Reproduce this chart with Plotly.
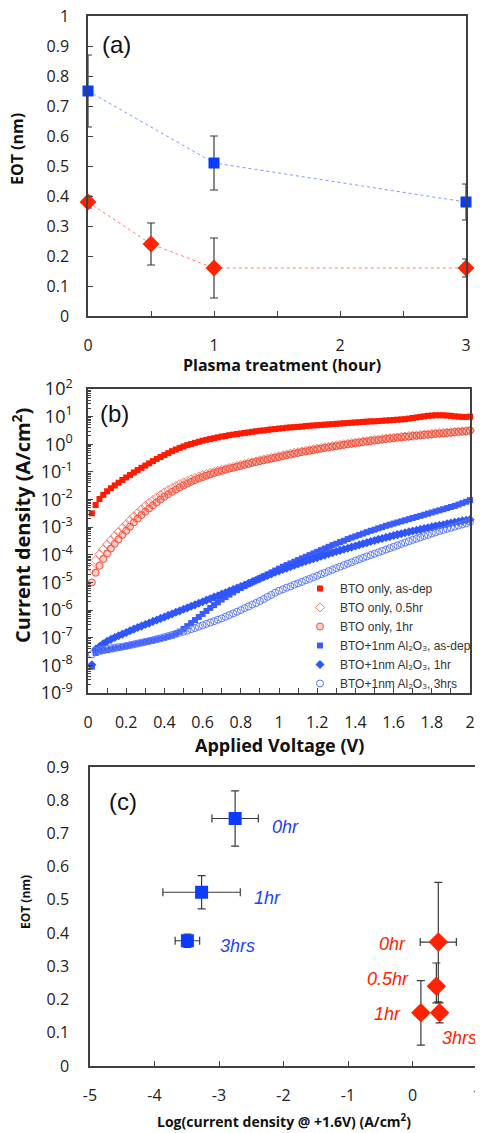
import plotly.graph_objects as go

# ---------------- Panel (a) data ----------------
plasma_hours_sq = [0, 1, 3]
eot_al2o3 = [0.75, 0.51, 0.38]
eot_al2o3_err = [0.12, 0.09, 0.06]

plasma_hours_dm = [0, 0.5, 1, 3]
eot_bto = [0.38, 0.24, 0.16, 0.16]
eot_bto_err = [0.02, 0.07, 0.10, 0.03]

# ---------------- Panel (b) data (J-V sweeps) ----------------
voltage = [round(0.02 * k, 2) for k in range(1, 101)]  # measurement sweep grid 0.02 .. 2.00 V

log_j_bto_asdep = [
    -2.50, -2.20, -1.98, -1.83, -1.70, -1.59, -1.49, -1.39, -1.29, -1.20,
    -1.11, -1.02, -0.93, -0.85, -0.77, -0.69, -0.61, -0.53, -0.46, -0.39,
    -0.32, -0.25, -0.19, -0.13, -0.08, -0.03, 0.01, 0.05, 0.09, 0.13,
    0.16, 0.19, 0.22, 0.25, 0.28, 0.30, 0.33, 0.35, 0.37, 0.39,
    0.41, 0.43, 0.45, 0.47, 0.49, 0.50, 0.52, 0.54, 0.55, 0.57,
    0.58, 0.60, 0.61, 0.62, 0.63, 0.64, 0.66, 0.67, 0.68, 0.69,
    0.70, 0.71, 0.72, 0.73, 0.74, 0.75, 0.76, 0.77, 0.78, 0.79,
    0.80, 0.81, 0.82, 0.83, 0.83, 0.84, 0.85, 0.86, 0.87, 0.88,
    0.89, 0.90, 0.91, 0.93, 0.95, 0.97, 0.99, 1.01, 1.03, 1.04,
    1.05, 1.05, 1.05, 1.04, 1.03, 1.01, 1.00, 0.99, 0.99, 1.00]

log_j_bto_05hr = [
    -4.50, -4.20, -3.98, -3.80, -3.63, -3.47, -3.32, -3.17, -3.03, -2.89,
    -2.75, -2.61, -2.48, -2.35, -2.23, -2.12, -2.02, -1.92, -1.83, -1.74,
    -1.66, -1.58, -1.51, -1.44, -1.38, -1.32, -1.27, -1.22, -1.17, -1.12,
    -1.08, -1.04, -1.00, -0.96, -0.92, -0.89, -0.85, -0.82, -0.78, -0.75,
    -0.72, -0.68, -0.65, -0.62, -0.58, -0.55, -0.52, -0.49, -0.46, -0.43,
    -0.40, -0.37, -0.34, -0.31, -0.29, -0.26, -0.23, -0.21, -0.18, -0.16,
    -0.13, -0.11, -0.09, -0.06, -0.04, -0.02, 0.00, 0.02, 0.04, 0.06,
    0.08, 0.10, 0.12, 0.14, 0.16, 0.17, 0.19, 0.21, 0.22, 0.24,
    0.25, 0.27, 0.28, 0.30, 0.31, 0.32, 0.34, 0.35, 0.36, 0.38,
    0.39, 0.40, 0.41, 0.42, 0.44, 0.45, 0.46, 0.47, 0.48, 0.49]

log_j_bto_1hr = [
    -5.00, -4.65, -4.40, -4.15, -3.95, -3.77, -3.60, -3.44, -3.28, -3.13,
    -2.98, -2.83, -2.69, -2.56, -2.44, -2.32, -2.21, -2.10, -2.00, -1.90,
    -1.81, -1.72, -1.64, -1.56, -1.49, -1.42, -1.36, -1.30, -1.24, -1.19,
    -1.14, -1.09, -1.04, -1.00, -0.96, -0.92, -0.88, -0.85, -0.81, -0.78,
    -0.74, -0.71, -0.67, -0.64, -0.61, -0.58, -0.55, -0.52, -0.49, -0.46,
    -0.43, -0.40, -0.37, -0.34, -0.31, -0.28, -0.26, -0.23, -0.21, -0.18,
    -0.16, -0.13, -0.11, -0.09, -0.07, -0.04, -0.02, 0.00, 0.02, 0.04,
    0.06, 0.08, 0.10, 0.12, 0.14, 0.15, 0.17, 0.19, 0.21, 0.22,
    0.24, 0.25, 0.27, 0.28, 0.30, 0.31, 0.32, 0.34, 0.35, 0.36,
    0.38, 0.39, 0.40, 0.41, 0.42, 0.44, 0.45, 0.46, 0.47, 0.50]

log_j_al_asdep = [
    -8.05, -7.55, -7.50, -7.47, -7.45, -7.42, -7.39, -7.36, -7.33, -7.30,
    -7.27, -7.24, -7.21, -7.18, -7.15, -7.12, -7.09, -7.06, -7.03, -7.00,
    -6.96, -6.92, -6.86, -6.78, -6.68, -6.58, -6.47, -6.36, -6.25, -6.14,
    -6.03, -5.92, -5.82, -5.72, -5.62, -5.53, -5.44, -5.36, -5.28, -5.20,
    -5.13, -5.06, -4.99, -4.92, -4.85, -4.78, -4.71, -4.64, -4.57, -4.50,
    -4.43, -4.37, -4.31, -4.25, -4.19, -4.13, -4.07, -4.01, -3.95, -3.89,
    -3.83, -3.77, -3.71, -3.65, -3.60, -3.54, -3.49, -3.43, -3.38, -3.33,
    -3.28, -3.23, -3.18, -3.13, -3.09, -3.04, -3.00, -2.95, -2.91, -2.87,
    -2.83, -2.79, -2.75, -2.71, -2.67, -2.63, -2.59, -2.55, -2.51, -2.47,
    -2.43, -2.39, -2.35, -2.31, -2.27, -2.23, -2.18, -2.13, -2.08, -2.02]

log_j_al_1hr = [
    -7.98, -7.42, -7.32, -7.22, -7.13, -7.06, -6.99, -6.93, -6.87, -6.81,
    -6.75, -6.69, -6.63, -6.58, -6.52, -6.47, -6.41, -6.36, -6.30, -6.25,
    -6.19, -6.14, -6.08, -6.03, -5.97, -5.92, -5.86, -5.81, -5.75, -5.70,
    -5.64, -5.59, -5.53, -5.48, -5.42, -5.37, -5.31, -5.26, -5.20, -5.15,
    -5.09, -5.03, -4.98, -4.92, -4.86, -4.80, -4.75, -4.69, -4.63, -4.58,
    -4.53, -4.48, -4.43, -4.38, -4.33, -4.28, -4.23, -4.19, -4.14, -4.10,
    -4.05, -4.01, -3.96, -3.92, -3.88, -3.84, -3.80, -3.76, -3.72, -3.68,
    -3.64, -3.60, -3.56, -3.52, -3.48, -3.44, -3.41, -3.37, -3.34, -3.30,
    -3.27, -3.24, -3.20, -3.17, -3.14, -3.11, -3.08, -3.05, -3.02, -2.99,
    -2.96, -2.93, -2.91, -2.88, -2.85, -2.82, -2.80, -2.77, -2.75, -2.72]

log_j_al_3hrs = [
    -7.60, -7.48, -7.45, -7.42, -7.40, -7.38, -7.36, -7.34, -7.32, -7.30,
    -7.27, -7.24, -7.21, -7.18, -7.15, -7.12, -7.09, -7.05, -7.02, -6.98,
    -6.94, -6.90, -6.86, -6.82, -6.78, -6.74, -6.69, -6.65, -6.60, -6.55,
    -6.50, -6.45, -6.40, -6.35, -6.30, -6.24, -6.18, -6.12, -6.06, -6.00,
    -5.93, -5.87, -5.80, -5.74, -5.67, -5.60, -5.52, -5.45, -5.37, -5.30,
    -5.25, -5.19, -5.14, -5.08, -5.03, -4.98, -4.92, -4.87, -4.81, -4.76,
    -4.70, -4.65, -4.59, -4.54, -4.48, -4.43, -4.37, -4.32, -4.27, -4.21,
    -4.16, -4.11, -4.06, -4.01, -3.96, -3.91, -3.86, -3.81, -3.76, -3.71,
    -3.66, -3.61, -3.56, -3.51, -3.46, -3.42, -3.37, -3.32, -3.28, -3.23,
    -3.19, -3.14, -3.10, -3.06, -3.02, -2.98, -2.94, -2.90, -2.86, -2.80]

legend_names = [
    "BTO only, as-dep",
    "BTO only, 0.5hr",
    "BTO only, 1hr",
    "BTO+1nm Al₂O₃, as-dep",
    "BTO+1nm Al₂O₃, 1hr",
    "BTO+1nm Al₂O₃, 3hrs",
]

y_tick_exponents = [-9, -8, -7, -6, -5, -4, -3, -2, -1, 0, 1, 2]
x_ticks_c = [-5, -4, -3, -2, -1, 0, 1]

# ---------------- Panel (c) data ----------------
logj_al = [-2.75, -3.27, -3.49]
logj_al_err = [0.36, 0.60, 0.19]
eot_c_al = [0.745, 0.523, 0.377]
eot_c_al_err = [0.083, 0.05, 0.02]
labels_al = ["0hr", "1hr", "3hrs"]

logj_bto = [0.40, 0.37, 0.13, 0.42]
logj_bto_err = [0.28, 0.03, 0.05, 0.05]
eot_c_bto = [0.373, 0.24, 0.16, 0.16]
eot_c_bto_err_plus = [0.18, 0.07, 0.097, 0.03]
eot_c_bto_err_minus = [0.18, 0.05, 0.097, 0.03]
labels_bto = ["0hr", "0.5hr", "1hr", "3hrs"]

# ---------------- page geometry (page body has an 8px margin) ----------------
OFF = 8
W = 483 - OFF
H = 1133 - OFF


def fx(px):
    return (px - OFF) / W


def fy(py):
    return 1 - (py - OFF) / H


# ---------------- styling ----------------
BLUE = "#0A3CFF"
RED = "#FF2200"
AX = "#404040"
ERR = "#3A3A3A"
TICKFONT = "Open Sans"
LBLFONT = "Liberation Sans"

fig = go.Figure()

# Panel (a)
fig.add_trace(go.Scatter(
    x=plasma_hours_sq, y=eot_al2o3, mode="lines+markers",
    line=dict(color="#7D97FF", width=1, dash="dot"),
    marker=dict(symbol="square", size=11, color=BLUE),
    error_y=dict(type="data", array=eot_al2o3_err, color=ERR, thickness=1.2, width=4),
    xaxis="x", yaxis="y", showlegend=False, cliponaxis=False))
fig.add_trace(go.Scatter(
    x=plasma_hours_dm, y=eot_bto, mode="lines+markers",
    line=dict(color="#FF8070", width=1, dash="dot"),
    marker=dict(symbol="diamond", size=13, color=RED),
    error_y=dict(type="data", array=eot_bto_err, color=ERR, thickness=1.2, width=4),
    xaxis="x", yaxis="y", showlegend=False, cliponaxis=False))

# Panel (b)
series_b = [log_j_bto_asdep, log_j_bto_05hr, log_j_bto_1hr,
            log_j_al_asdep, log_j_al_1hr, log_j_al_3hrs]
marker_styles = [
    dict(symbol="square", size=6, color="#FF1A00"),
    dict(symbol="diamond-open", size=7, color="#FF7A6A", line=dict(width=1)),
    dict(symbol="circle", size=7, color="rgba(255,120,100,0.35)", line=dict(color="#F0503C", width=1)),
    dict(symbol="square", size=6, color="#3A5CFF"),
    dict(symbol="diamond", size=7, color="#2F55FF"),
    dict(symbol="circle-open", size=7, color="#5A78FF", line=dict(width=1)),
]
for name, logs, mk in zip(legend_names, series_b, marker_styles):
    fig.add_trace(go.Scatter(
        x=voltage, y=[10 ** v for v in logs], mode="markers", name=name,
        marker=mk, xaxis="x2", yaxis="y2", cliponaxis=False))

# Panel (c)
fig.add_trace(go.Scatter(
    x=logj_al, y=eot_c_al, mode="markers",
    marker=dict(symbol="square", size=13, color=BLUE),
    error_x=dict(type="data", array=logj_al_err, color=ERR, thickness=1.2, width=4),
    error_y=dict(type="data", array=eot_c_al_err, color=ERR, thickness=1.2, width=4),
    xaxis="x3", yaxis="y3", showlegend=False, cliponaxis=False))
fig.add_trace(go.Scatter(
    x=logj_bto, y=eot_c_bto, mode="markers",
    marker=dict(symbol="diamond", size=15, color=RED),
    error_x=dict(type="data", array=logj_bto_err, color=ERR, thickness=1.2, width=4),
    error_y=dict(type="data", array=eot_c_bto_err_plus, arrayminus=eot_c_bto_err_minus,
                 color=ERR, thickness=1.2, width=4),
    xaxis="x3", yaxis="y3", showlegend=False, cliponaxis=False))

ann = []
al_shift = [(35, -9), (50, -6), (31, -5)]
for xv, yv, t, (dx, dy) in zip(logj_al, eot_c_al, labels_al, al_shift):
    ann.append(dict(x=xv, y=yv, xref="x3", yref="y3", text="<i>%s</i>" % t, showarrow=False,
                    xanchor="left", yanchor="middle", xshift=dx, yshift=dy,
                    font=dict(family=LBLFONT, size=18, color="#1F40FF")))
bto_shift = [(-30, -2, "right"), (-25, 7, "right"), (-18, -1, "right"), (0, -25, "left")]
for xv, yv, t, (dx, dy, anc) in zip(logj_bto, eot_c_bto, labels_bto, bto_shift):
    ann.append(dict(x=xv, y=yv, xref="x3", yref="y3", text="<i>%s</i>" % t, showarrow=False,
                    xanchor=anc, yanchor="middle", xshift=dx, yshift=dy,
                    font=dict(family=LBLFONT, size=18, color=RED)))

# panel labels
for txt, px, py in [("(a)", 100, 45), ("(b)", 98, 413), ("(c)", 107, 802)]:
    ann.append(dict(x=fx(px), y=fy(py), xref="paper", yref="paper", text=txt,
                    showarrow=False, xanchor="left", yanchor="middle",
                    font=dict(family=LBLFONT, size=24, color="#111")))

# axis titles
TB = dict(family=TICKFONT, color="#111")
CC = dict(xref="paper", yref="paper", showarrow=False, xanchor="center", yanchor="middle")
ann += [
    dict(x=fx(17), y=fy(149), text="<b>EOT (nm)</b>", textangle=-90,
         font=dict(size=16, **TB), **CC),
    dict(x=fx(282), y=fy(365), text="<b>Plasma treatment (hour)</b>",
         font=dict(size=16, **TB), **CC),
    dict(x=fx(21), y=fy(526), text="<b>Current density (A/cm<sup>2</sup>)</b>", textangle=-90,
         font=dict(size=20, **TB), **CC),
    dict(x=fx(279), y=fy(745), text="<b>Applied Voltage (V)</b>",
         font=dict(size=18, **TB), **CC),
    dict(x=fx(25), y=fy(902), text="<b>EOT (nm)</b>", textangle=-90,
         font=dict(size=12, **TB), **CC),
    dict(x=fx(284), y=fy(1121), text="<b>Log(current density @ +1.6V) (A/cm<sup>2</sup>)</b>",
         font=dict(size=14, **TB), **CC),
]

axis_common = dict(showgrid=False, zeroline=False, showline=True, linecolor=AX, linewidth=1.5,
                   mirror=True, tickcolor=AX, ticks="inside", ticklen=5, automargin=False,
                   ticklabeloverflow="allow",
                   tickfont=dict(family=TICKFONT, size=16, color="#222"))

fig.update_layout(
    width=W, height=H, margin=dict(l=0, r=0, t=0, b=0, pad=0, autoexpand=False),
    paper_bgcolor="white", plot_bgcolor="white",
    xaxis=dict(domain=[fx(88), fx(466)], anchor="y", range=[0, 3], dtick=1,
               ticklabelstandoff=14, minor=dict(ticks="inside", dtick=0.5, ticklen=5, tickcolor=AX),
               **axis_common),
    yaxis=dict(domain=[fy(316), fy(16)], anchor="x", range=[0, 1], dtick=0.1,
               ticklabelstandoff=14, **axis_common),
    xaxis2=dict(domain=[fx(88), fx(470)], anchor="y2", range=[0, 2], dtick=0.2,
                ticklabelstandoff=14,
                minor=dict(ticks="inside", dtick=0.1, ticklen=5, tickcolor=AX), **axis_common),
    yaxis2=dict(domain=[fy(693), fy(389)], anchor="x2", type="log",
                range=[-9, 2], tickvals=[10 ** e for e in y_tick_exponents],
                ticktext=["10<sup>%d</sup>" % e for e in y_tick_exponents],
                ticklabelstandoff=10,
                minor=dict(ticks="inside", ticklen=3, tickcolor=AX, dtick="D1"),
                **{**axis_common, "tickfont": dict(family=TICKFONT, size=18, color="#222")}),
    xaxis3=dict(domain=[fx(90), fx(477)], anchor="y3", range=[-5, 1],
                tickvals=x_ticks_c, ticktext=["%d" % v for v in x_ticks_c],
                ticklabelstandoff=14, **axis_common),
    yaxis3=dict(domain=[fy(1066), fy(767)], anchor="x3", range=[0, 0.9],
                dtick=0.1, ticklabelstandoff=16,
                **{**axis_common, "ticks": ""}),
    legend=dict(x=fx(300), y=fy(574), xanchor="left", yanchor="top",
                bgcolor="rgba(0,0,0,0)", font=dict(family=LBLFONT, size=12, color="#333"),
                tracegroupgap=0, itemwidth=30),
    annotations=ann,
)

fig.write_html("out.html")
